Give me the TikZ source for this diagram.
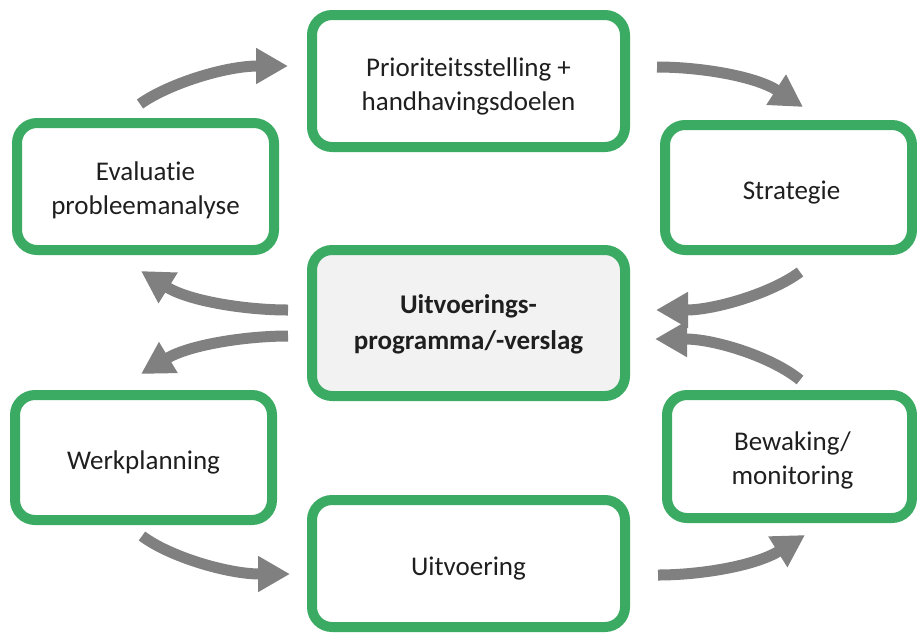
\documentclass[tikz,border=0pt]{standalone}
\usepackage{fontspec}
\setmainfont{Carlito}[Ligatures=NoCommon]
\usetikzlibrary{arrows.meta}
\definecolor{boxgreen}{RGB}{59,170,99}
\definecolor{arrowgray}{RGB}{128,128,128}
\definecolor{centerfill}{RGB}{242,242,242}
\begin{document}
\begin{tikzpicture}[x=1pt,y=-1pt,
  box/.style={draw=boxgreen, line width=10pt, rounded corners=20pt, fill=white, inner sep=0pt},
  lbl/.style={align=center, font=\fontsize{27}{34}\selectfont, text=black!88, inner sep=0pt},
  flow/.style={draw=arrowgray, line width=11pt, line cap=butt,
    -{Triangle[length=32pt,width=34pt]}}
]
\useasboundingbox (0,0) rectangle (917,633);
% boxes
\node[box, minimum width=313pt, minimum height=132pt] (prio) at (468.5,81) {};
\node[box, minimum width=247pt, minimum height=125pt] (strat) at (788.5,187.5) {};
\node[box, minimum width=257pt, minimum height=127pt] (eval) at (145.5,186.5) {};
\node[box, fill=centerfill, minimum width=313pt, minimum height=146pt] (prog) at (468.5,323) {};
\node[box, minimum width=257pt, minimum height=125pt] (werk) at (143.5,457.5) {};
\node[box, minimum width=245pt, minimum height=123pt] (bew) at (789.5,456.5) {};
\node[box, minimum width=313pt, minimum height=127pt] (uitv) at (468.5,563.5) {};
% texts
\node[lbl] (prio-t)  at ([yshift=-5pt]prio.center)  {Prioriteitsstelling +\\handhavingsdoelen};
\node[lbl] (strat-t) at ([xshift=3pt,yshift=-5pt]strat.center) {Strategie};
\node[lbl] (eval-t)  at ([yshift=-4pt]eval.center)  {Evaluatie\\probleemanalyse};
\node[lbl, font=\fontsize{27}{36}\selectfont\bfseries] (prog-t) at ([yshift=-1pt]prog.center) {Uitvoerings-\\programma/-verslag};
\node[lbl] (werk-t)  at ([yshift=-5pt]werk.center)  {Werkplanning};
\node[lbl] (bew-t)   at ([xshift=3pt,yshift=-4pt]bew.center)   {Bewaking/\\monitoring};
\node[lbl] (uitv-t)  at ([yshift=-5pt]uitv.center)  {Uitvoering};
% arrow end points
\coordinate (a1s) at (140,104); \coordinate (a1e) at (288,66);
\coordinate (a2s) at (657,67);  \coordinate (a2e) at (803,107);
\coordinate (a3s) at (800,272); \coordinate (a3e) at (656,310);
\coordinate (a4s) at (800,380); \coordinate (a4e) at (655,339);
\coordinate (a5s) at (288,310); \coordinate (a5e) at (141,271);
\coordinate (a6s) at (288,336); \coordinate (a6e) at (141,374);
\coordinate (a7s) at (142,536); \coordinate (a7e) at (290,574);
\coordinate (a8s) at (658,575); \coordinate (a8e) at (805,535);
% arrows
\draw[flow] (a1s) .. controls (168,84) and (225,66) .. (a1e);
\draw[flow] (a2s) .. controls (700,67) and (755,76) .. (a2e);
\draw[flow] (a3s) .. controls (772,293) and (715,310) .. (a3e);
\draw[flow] (a4s) .. controls (772,357) and (715,339) .. (a4e);
\draw[flow] (a5s) .. controls (245,310) and (189,301) .. (a5e);
\draw[flow] (a6s) .. controls (245,336) and (189,345) .. (a6e);
\draw[flow] (a7s) .. controls (170,557) and (228,574) .. (a7e);
\draw[flow] (a8s) .. controls (700,575) and (755,566) .. (a8e);
\end{tikzpicture}
\end{document}
